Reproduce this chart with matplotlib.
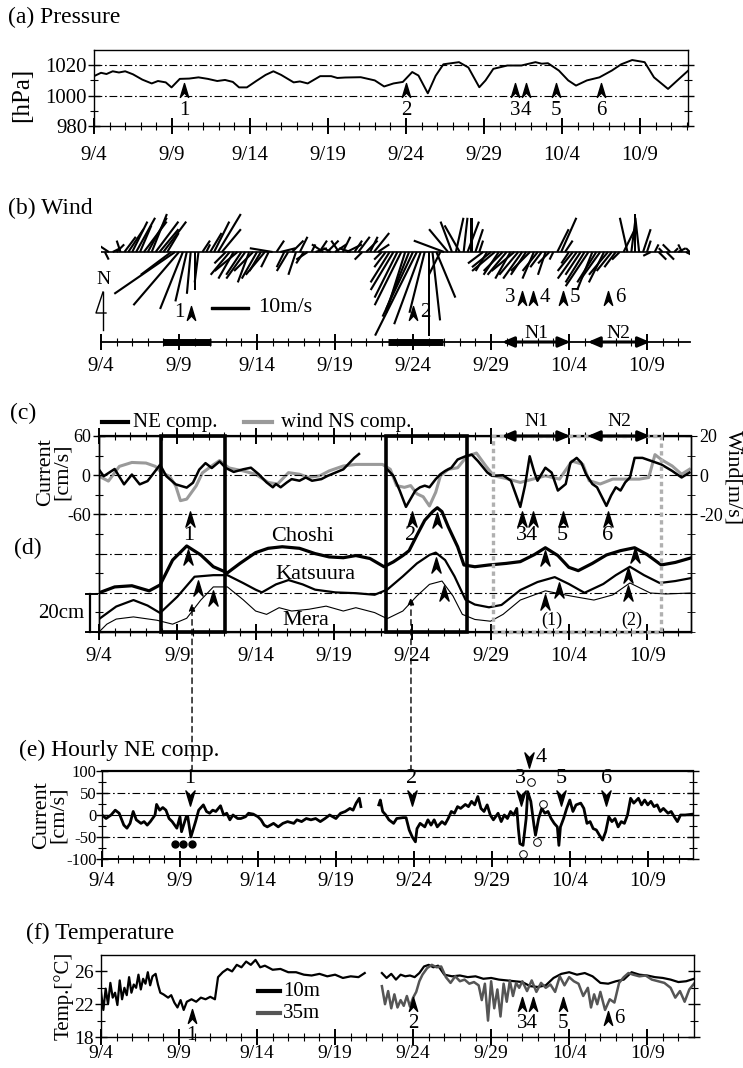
import numpy as np
import matplotlib
matplotlib.use("Agg")
import matplotlib.pyplot as plt
from matplotlib.path import Path
from matplotlib.lines import Line2D
from matplotlib.patches import Rectangle, ConnectionPatch
from matplotlib.transforms import blended_transform_factory as blend

plt.rcParams['font.family'] = ['Liberation Serif', 'DejaVu Serif']
plt.rcParams['axes.linewidth'] = 1.0
plt.rcParams['axes.unicode_minus'] = False

# ------------------------------------------------------------------ data
DATE_LABELS = ['9/4', '9/9', '9/14', '9/19', '9/24', '9/29', '10/4', '10/9']
DATE_TICK_DAYS = [0, 5, 10, 15, 20, 25, 30, 35]
EVENT_LABELS = ['1', '2', '3', '4', '5', '6']
EVENT_DAYS = [5.8, 20.0, 27.0, 27.7, 29.6, 32.5]

# (a) sea level pressure [hPa], days after 9/4
PRESSURE = [(0, 1012.8), (0.45, 1015), (0.8, 1014.2), (1.2, 1016), (1.6, 1015.2), (2.0, 1016),
            (2.5, 1014), (3.1, 1010.5), (3.7, 1008), (4.1, 1009.6), (4.6, 1008.7), (4.97, 1005.4),
            (5.5, 1011), (6.1, 1011.2), (6.7, 1012), (7.3, 1011), (7.9, 1009.6), (8.4, 1010.3),
            (8.9, 1009), (9.3, 1005.4), (9.8, 1005.4), (10.4, 1009.6), (11.0, 1013.6),
            (11.5, 1016), (12.0, 1013.6), (12.8, 1008.7), (13.2, 1009.3), (13.7, 1008),
            (14.5, 1012.8), (15.2, 1012.8), (15.6, 1011.6), (16.1, 1011.9), (17.1, 1012.1),
            (18.0, 1010), (18.6, 1006), (19.2, 1008), (19.8, 1009), (20.4, 1015.5),
            (20.8, 1013.2), (21.4, 1001.5), (21.9, 1013), (22.4, 1020.6), (23.4, 1022),
            (24.0, 1018.5), (24.7, 1005.5), (25.1, 1010), (25.6, 1017.6), (26.5, 1019.8),
            (27.4, 1019.8), (28.3, 1022), (28.7, 1021), (29.1, 1021.3), (29.8, 1016.5),
            (30.4, 1010), (30.9, 1006.6), (31.6, 1010), (32.4, 1012), (33.2, 1016.5),
            (33.8, 1020.6), (34.5, 1023.4), (35.3, 1022), (35.9, 1012), (36.8, 1004.4),
            (37.7, 1012.8), (38.1, 1016.5)]

# (b) wind vectors, 6-hourly (4 per day) [m/s]
WIND_U = [[-2, 1, -3, 2], [2, -1, 3, 4], [4, 5, 3, 6], [5, 4, 6, 5], [6, 3, -8, -16],
          [-12, -6, -3, -1], [0, -1, 2, 1], [3, 4, 6, 5], [-3, -5, -4, -6], [-4, -5, -3, -5],
          [-4, -3, -5, -2], [-6, 2, 4, -2], [-3, 3, -2, 2], [-2, -3, 1, 3], [2, -3, 3, -2],
          [3, -2, 2, 4], [-3, 2, 3, -2], [3, 2, 4, 3], [-2, -3, -5, -6], [-6, -7, -5, -6],
          [-8, -11, -7, -4], [0, 2, 5, -3], [-8, -5, -3, 2], [-4, 1, 3, 0], [2, 1, -4, -3],
          [-5, -6, -4, -5], [-5, -4, -6, -5], [-5, -4, -5, -3], [-4, -3, -2, -3], [-1, 3, 4, 2],
          [-2, -4, -5, -4], [-5, -6, -4, -5], [-5, -4, -5, -4], [-3, -2, 3, -2], [1, 0, -1, 2],
          [1, -2, 1, 2], [-1, 2, -2, 1], [2, -1, 2, -1]]
WIND_V = [[1, -2, 2, 1], [2, 3, 4, 6], [8, 9, 7, 8], [9, 10, 8, 6], [8, 5, -6, -11],
          [-14, -15, -13, -11], [-10, -8, 3, 2], [5, 8, 10, 6], [-3, -6, -7, -5], [-6, -7, -8, -5],
          [-7, -5, -6, -4], [1, 3, 1, -4], [-5, 3, -6, 4], [-3, -2, 2, 1], [3, 2, 3, 1],
          [2, 3, 4, 2], [1, 3, 4, -2], [3, 4, 5, 2], [-2, -4, -8, -10], [-12, -14, -16, -15],
          [-17, -22, -19, -16], [-22, -18, -12, -6], [3, 6, 8, 9], [7, 9, 8, 9], [6, 3, -3, -5],
          [-4, -5, -6, -5], [-6, -7, -5, -6], [-7, -6, -5, -7], [-5, -4, -6, -3], [-2, 6, 9, 3],
          [-3, -5, -7, -6], [-8, -9, -10, -8], [-7, -8, -6, -5], [-4, -2, 6, 9], [8, 10, 9, 6],
          [3, -1, 2, -2], [1, -2, 2, 1], [1, 2, -1, 1]]
WIND_BARS = [(4.0, 7.05), (18.4, 21.9)]
PERIODS = {'N1': (25.7, 30.1), 'N2': (31.2, 35.2)}

# (c) 25-h filtered NE current [cm/s] and wind NS component [m/s]
NE_COMP = [(0, 8.5), (0.3, -1.5), (1.0, 9.5), (1.6, -14), (2.1, 1), (2.6, -14), (3.1, -9),
           (3.9, 16), (4.3, -1.5), (4.9, -14), (5.6, -19), (6.0, -11.5), (6.4, 8.5),
           (6.8, 18.5), (7.2, 11), (7.7, 21), (8.1, 11), (8.6, 5), (9.2, 9), (9.7, 11.5),
           (10.2, 1.5), (10.7, -11), (11.1, -18.5), (11.3, -13.5), (11.6, -18.5), (12.0, -11),
           (12.3, -6), (12.8, -8.5), (13.2, -3.5), (13.6, -8.5), (14.2, -6), (14.6, -1),
           (15.1, 4), (15.6, 9), (16.0, 19), (16.3, 26.5), (16.6, 32.5), (17.5, np.nan),
           (18.4, 9), (18.8, -1), (19.2, -23.5), (19.6, -48.5), (19.9, -36), (20.2, -23.5),
           (20.5, -18.5), (20.8, -16), (21.1, -18.5), (21.5, -6), (21.8, 1.5), (22.1, 6.5),
           (22.5, 11.5), (22.9, 24), (23.4, 29), (23.8, 31.5), (24.2, 21.5), (24.8, 4),
           (25.1, -1), (25.8, 0), (26.3, -8.5), (26.9, -48.5), (27.2, -16), (27.5, 29),
           (27.8, 4), (28.0, -8.5), (28.5, 11.5), (28.9, 4), (29.3, -23.5), (29.8, -13.5),
           (30.1, 19), (30.5, 26.5), (30.8, 19), (31.1, 1.5), (31.5, -13.5), (31.8, -18.5),
           (32.4, -47), (32.7, -31), (33.0, -18.5), (33.3, -23.5), (33.6, -11), (33.9, -3.5),
           (34.2, 26.5), (34.7, 26.5), (35.3, 21.5), (35.9, 16.5), (36.6, 6.5), (37.2, -3.5),
           (37.7, 4)]
WIND_NS = [(0, -0.5), (0.6, -3), (1.3, 4.5), (2.1, 6.5), (3.0, 6.2), (3.6, 4.5), (4.0, 1.2),
           (4.5, -0.5), (4.9, -5.5), (5.2, -13), (5.6, -12.2), (6.2, -5.5), (6.6, 1.2),
           (7.3, 5.3), (7.7, 7.5), (8.3, 3.7), (9.2, 2.2), (10.0, 0.5), (10.8, -3.7),
           (11.4, -4.5), (12.1, 1.3), (12.8, 0.5), (13.4, -1.2), (14.1, -0.3), (14.7, 2.2),
           (15.6, 4.7), (16.4, 5.5), (17.3, 5.5), (18.1, 5.5), (18.6, 3), (19.0, -5.3),
           (19.5, -6.2), (19.9, -5.3), (20.3, -9.5), (20.7, -11), (21.1, -15.7), (21.5, -8.7),
           (21.8, -0.3), (22.3, 3), (22.9, 3.8), (23.5, 9.7), (24.1, 11.3), (24.7, 4.7),
           (25.2, -0.3), (26.0, -1.7), (26.9, -3.7), (27.7, -2), (28.5, -0.3), (29.4, -2),
           (30.2, 7.2), (30.9, 5.5), (31.3, -2.8), (32.0, -4.5), (32.8, -2), (33.6, -2),
           (34.5, -2), (35.1, -1.2), (35.5, 10.5), (35.9, 8), (36.6, 4.7), (37.2, 0.5),
           (37.7, 3)]

# (d) filtered sea level (offset for display) [cm]
CHOSHI = [(0, 20), (1.0, 23), (2.1, 23.6), (3.2, 21), (3.9, 24), (4.7, 36.7), (5.6, 43.9),
          (6.5, 39.3), (7.3, 33.3), (8.2, 30.2), (9.0, 35), (10.0, 40.5), (10.8, 42.7),
          (11.7, 43.5), (12.8, 42.7), (13.8, 40), (14.7, 38.3), (15.6, 37.9), (16.4, 39),
          (17.3, 37.5), (18.2, 33.3), (18.8, 35.8), (19.4, 39), (19.8, 41.5), (20.3, 49.4),
          (20.8, 57), (21.3, 61.4), (21.6, 63.4), (21.9, 61.4), (22.3, 53.7), (22.9, 43.5),
          (23.3, 34.2), (24.0, 33.3), (24.9, 34.2), (26.0, 35), (26.9, 35.9), (27.8, 39.5),
          (28.5, 43), (29.3, 39), (30.0, 33), (30.6, 31.3), (31.5, 35), (32.4, 39.3),
          (33.3, 41.5), (34.2, 43), (35.0, 39.5), (35.9, 34.2), (36.8, 35.5), (37.8, 37.8)]
KATSUURA = [(0, 6.6), (1.1, 13), (2.2, 16.3), (3.1, 13.5), (3.9, 9.7), (5.0, 18), (6.1, 28.2),
            (7.3, 29), (8.2, 29), (9.2, 25), (10.0, 21.6), (10.4, 20.2), (11.3, 24.3),
            (12.1, 26.5), (13.0, 24.3), (13.8, 21.6), (15.1, 20.2), (16.4, 19.8), (17.6, 19),
            (18.4, 21.6), (19.4, 28.4), (20.3, 35), (21.1, 39.3), (21.5, 40.5), (22.1, 36.7),
            (22.7, 28.4), (23.4, 16.5), (24.0, 14), (24.9, 12.6), (25.7, 13.8), (26.9, 21.4),
            (28.0, 25.5), (29.1, 28), (30.0, 24.5), (31.0, 20), (32.2, 24.5), (33.0, 29),
            (33.9, 33.3), (34.8, 29), (35.8, 25), (36.8, 26), (37.8, 27.5)]
MERA = [(0, 0), (0.5, 4), (1.1, 6.6), (2.2, 7.7), (3.7, 6), (4.7, 4), (5.6, 7), (6.5, 16.3),
        (7.3, 23), (8.2, 23), (9.2, 16.5), (10.0, 10.7), (10.7, 9), (11.5, 12.4), (12.3, 10.7),
        (13.4, 11.6), (14.5, 13.2), (15.6, 10.7), (16.4, 12.4), (17.6, 9.9), (18.4, 6.8),
        (19.4, 10.7), (20.3, 18.4), (21.1, 24.3), (21.9, 26), (22.6, 18.4), (23.2, 9),
        (24.0, 6.4), (25.0, 5.5), (25.8, 9), (26.9, 16.3), (28.5, 21), (30.1, 18.4),
        (31.6, 16.3), (32.8, 18.9), (33.9, 25), (35.2, 19.9), (36.2, 19.4), (37.8, 19.9)]
SL_MARKS = [(5.7, 38.3), (6.3, 22.4), (7.3, 17.3), (21.6, 57.1), (21.5, 34.2), (22.0, 19.9),
            (28.5, 37.8), (29.4, 21.4), (28.5, 15.3), (34.2, 39.3), (33.8, 29.1), (33.8, 19.9)]
SL_EVENTS = [('(1)', 28.9), ('(2)', 34.0)]

# (e) hourly NE component [cm/s]
HOURLY = [(0, 0), (0.26, -8), (0.58, 0), (0.85, 11), (1.1, 4), (1.4, -23), (1.6, -30),
          (1.8, -19), (2.0, 8), (2.2, -11), (2.5, -19), (2.7, -15), (2.9, -23), (3.1, -15),
          (3.4, 0), (3.5, 24), (3.7, 11), (3.9, 17), (4.1, 11), (4.3, -8), (4.5, -15),
          (4.8, -30), (5.0, -4), (5.1, -38), (5.4, -4), (5.5, -4), (5.7, -50), (6.0, -15),
          (6.2, 11), (6.5, 23), (6.7, 8), (6.9, 4), (7.1, 11), (7.3, 8), (7.6, 21), (7.8, 0),
          (8.0, 4), (8.2, -11), (8.4, 0), (8.7, -8), (8.9, -8), (9.2, -4), (9.4, 4), (9.7, 2),
          (10.0, -4), (10.2, -11), (10.4, -23), (10.6, -27), (10.8, -23), (11.0, -19),
          (11.3, -27), (11.6, -19), (11.9, -15), (12.3, -19), (12.5, -11), (12.8, -15),
          (13.1, -8), (13.4, -11), (13.7, -8), (14.0, -15), (14.3, -8), (14.6, 0), (15.0, -8),
          (15.3, 4), (15.6, 8), (15.9, 15), (16.1, 11), (16.3, 27), (16.5, 38), (16.6, 19),
          (17.1, np.nan), (17.75, 23), (17.85, 34), (18.0, 8), (18.2, 0), (18.4, -11),
          (18.7, -19), (18.9, -8), (19.3, -6), (19.5, -6), (19.7, -34), (19.9, -50),
          (20.1, -61), (20.2, -31), (20.4, -19), (20.7, -27), (20.9, -11), (21.1, -23),
          (21.3, -11), (21.5, -27), (21.8, -15), (22.0, -21), (22.2, -8), (22.4, 8), (22.6, 4),
          (22.8, 19), (23.0, 15), (23.3, 24), (23.5, 19), (23.7, 31), (23.9, 23), (24.1, 42),
          (24.3, 15), (24.5, 8), (24.7, 23), (24.9, 0), (25.1, -11), (25.4, 4), (25.6, -15),
          (25.8, 0), (26.0, -8), (26.2, 8), (26.4, 0), (26.6, 15), (26.7, -31), (26.8, -65),
          (27.0, -69), (27.2, -8), (27.3, 53), (27.5, 31), (27.7, -23), (27.8, -46),
          (28.0, -8), (28.2, 15), (28.4, 4), (28.6, 8), (28.8, -8), (29.0, -19), (29.2, -27),
          (29.3, -69), (29.4, -27), (29.6, -8), (29.8, 15), (30.0, 34), (30.2, 8), (30.4, 23),
          (30.7, 27), (30.9, 15), (31.1, -19), (31.3, -15), (31.5, -31), (31.7, -34),
          (31.9, -46), (32.1, -57), (32.3, -38), (32.5, -4), (32.7, -15), (32.9, -8),
          (33.1, -27), (33.3, -15), (33.5, -19), (33.7, 0), (33.9, 38), (34.1, 27), (34.4, 38),
          (34.6, 23), (34.8, 34), (35.0, 23), (35.2, 31), (35.4, 19), (35.6, 23), (35.8, 8),
          (36.0, 15), (36.3, 4), (36.5, 8), (36.7, -4), (36.9, -15), (37.1, 0), (37.4, 0),
          (37.9, 2)]
FILLED_DOTS = [(4.7, -67), (5.2, -67), (5.8, -67)]
OPEN_DOTS = [(27.5, 76), (28.25, 25), (27.9, -61), (27.0, -88)]

# (f) temperature [deg C]
TEMP_10M = [(0, 23.5), (0.15, 21.3), (0.3, 23.9), (0.45, 22.0), (0.6, 24.6), (0.75, 22.8),
            (0.9, 23.4), (1.05, 21.9), (1.2, 24.9), (1.35, 22.6), (1.5, 24.0), (1.65, 23.1),
            (1.8, 25.3), (1.95, 23.4), (2.1, 24.4), (2.25, 24.0), (2.4, 25.6), (2.55, 23.8),
            (2.7, 25.1), (2.85, 24.5), (3.0, 25.9), (3.15, 24.3), (3.3, 25.4), (3.5, 25.7),
            (3.65, 24.4), (3.8, 23.4), (4.0, 23.2), (4.3, 22.8), (4.5, 23.1), (4.7, 22.2),
            (4.9, 21.6), (5.1, 22.5), (5.3, 21.3), (5.5, 22.3), (5.8, 22.6), (6.1, 22.3),
            (6.4, 22.8), (6.7, 22.6), (7.0, 22.9), (7.3, 22.6), (7.5, 25.3), (7.8, 25.9),
            (8.1, 26.3), (8.4, 26.0), (8.7, 26.8), (9.0, 26.5), (9.3, 27.2), (9.6, 26.8),
            (9.9, 27.4), (10.2, 26.5), (10.5, 26.7), (11.0, 26.2), (11.5, 26.3), (12.0, 25.9),
            (12.5, 25.9), (13.0, 25.6), (13.5, 25.5), (14.0, 25.7), (14.5, 25.4), (15.0, 25.6),
            (15.5, 25.2), (16.0, 25.4), (16.5, 25.3), (16.9, 25.8), (17.4, np.nan), (18.0, 25.8),
            (18.3, 25.2), (18.6, 25.7), (18.9, 25.0), (19.2, 25.6), (19.5, 25.4), (19.8, 25.5),
            (20.1, 25.3), (20.4, 25.8), (20.7, 26.6), (21.0, 26.8), (21.3, 26.5), (21.6, 26.7),
            (22.0, 25.6), (22.5, 25.4), (23.0, 25.5), (23.5, 25.3), (24.0, 25.4), (24.5, 25.1),
            (25.0, 25.2), (25.5, 25.0), (26.0, 24.9), (26.5, 24.8), (27.0, 24.7), (27.5, 24.2),
            (28.0, 24.1), (28.5, 24.3), (29.0, 25.2), (29.5, 25.7), (30.0, 25.9), (30.5, 25.6),
            (31.0, 25.8), (31.5, 25.4), (32.0, 24.6), (32.5, 24.5), (33.0, 24.8), (33.5, 25.0),
            (34.0, 25.9), (34.5, 25.6), (35.0, 25.5), (35.5, 25.3), (36.0, 25.2), (36.5, 25.0),
            (37.0, 24.7), (37.5, 24.8), (38.0, 25.1)]
TEMP_35M = [(18.0, 24.2), (18.2, 22.0), (18.4, 23.6), (18.6, 21.5), (18.8, 23.2), (19.0, 21.6),
            (19.2, 22.5), (19.4, 21.8), (19.6, 23.0), (19.8, 21.7), (20.0, 22.8), (20.2, 23.5),
            (20.4, 24.8), (20.6, 25.6), (20.9, 26.4), (21.2, 26.8), (21.5, 26.5), (21.8, 26.6),
            (22.1, 25.3), (22.4, 24.6), (22.7, 25.4), (23.0, 24.8), (23.3, 25.0), (23.6, 24.5),
            (23.9, 24.7), (24.2, 24.3), (24.4, 22.5), (24.6, 24.5), (24.8, 20.0), (25.0, 24.8),
            (25.2, 21.5), (25.4, 23.8), (25.6, 20.5), (25.8, 24.5), (26.0, 22.3), (26.2, 24.9),
            (26.4, 23.0), (26.6, 24.6), (26.8, 24.0), (27.0, 24.8), (27.3, 23.6), (27.6, 24.9),
            (27.9, 23.5), (28.2, 24.6), (28.5, 24.0), (28.8, 24.4), (29.1, 23.5), (29.4, 25.4),
            (29.7, 24.3), (30.0, 25.3), (30.3, 24.8), (30.6, 24.5), (30.9, 23.0), (31.2, 24.0),
            (31.4, 21.6), (31.6, 23.2), (31.8, 22.0), (32.0, 23.5), (32.3, 21.3), (32.6, 22.6),
            (32.9, 22.2), (33.2, 24.6), (33.5, 25.3), (33.8, 25.8), (34.1, 25.6), (34.5, 25.4),
            (34.9, 25.5), (35.3, 25.0), (35.7, 24.8), (36.1, 24.6), (36.5, 24.0), (36.8, 22.8),
            (37.1, 23.6), (37.4, 22.3), (37.7, 23.8), (38.0, 24.5)]

# ------------------------------------------------------------------ helpers
W, H = 743, 1068
fig = plt.figure(figsize=(W / 100, H / 100), dpi=100)


def unzip(pairs):
    a = np.array(pairs, dtype=float)
    return a[:, 0], a[:, 1]


def px_ax(l, t, r, b, **kw):
    return fig.add_axes([l / W, 1 - b / H, (r - l) / W, (b - t) / H], **kw)


def ptext(x, y, s, **kw):
    kw.setdefault('ha', 'left')
    kw.setdefault('va', 'center')
    return fig.text(x / W, 1 - y / H, s, **kw)


def time_axis(ax, xmax, pad=2, top=False, labelsize=15):
    ax.set_xlim(0, xmax)
    ax.set_xticks(DATE_TICK_DAYS)
    ax.set_xticklabels(DATE_LABELS)
    ax.set_xticks(np.arange(0, xmax, 1.0), minor=True)
    ax.tick_params(axis='x', which='major', direction='inout', length=11, width=1.4,
                   labelsize=labelsize, pad=pad, top=top)
    ax.tick_params(axis='x', which='minor', direction='inout', length=6, width=0.8, top=top)


def y_ticks(ax, major, minor, labelsize=14, right=True, left=True, pad=1):
    ax.set_yticks(major)
    ax.set_yticks(minor, minor=True)
    ax.tick_params(axis='y', which='both', direction='inout', left=left, right=right,
                   labelsize=labelsize, pad=pad)
    ax.tick_params(axis='y', which='major', length=8, width=1.0)
    ax.tick_params(axis='y', which='minor', length=6, width=0.8)


_v = [(0, 1), (0.6, -1), (0, -0.35), (-0.6, -1), (0, 1)]
_c = [Path.MOVETO, Path.LINETO, Path.LINETO, Path.LINETO, Path.CLOSEPOLY]
UP = Path(_v, _c)
DOWN = Path([(x, -y) for x, y in _v], _c)
DASHDOT = (0, (7, 2.5, 1.5, 2.5))
GRAY = '#9a9a9a'


def mark(ax, x, y, path=UP, ms=10):
    ax.plot([x], [y], ls='none', marker=path, ms=ms, color='k', clip_on=False, zorder=6)


# ------------------------------------------------------------------ (a) pressure
ax_a = px_ax(94, 50, 688, 126)
pd_, ph_ = unzip(PRESSURE)
ax_a.plot(pd_, ph_, color='k', lw=1.4)
ax_a.set_ylim(980, 1030)
for v in (1000, 1020):
    ax_a.axhline(v, color='k', lw=0.8, ls=DASHDOT)
y_ticks(ax_a, [980, 1000, 1020], [990, 1010], labelsize=15)
time_axis(ax_a, 38.08, pad=9)
for lab, d in zip(EVENT_LABELS, EVENT_DAYS):
    mark(ax_a, d, 1003.5)
    ax_a.text(d, 990.5, lab, ha='center', va='center', fontsize=15)
ptext(8, 17, '(a) Pressure', fontsize=17)
ptext(22, 95, '[hPa]', rotation=90, ha='center', fontsize=18)

# ------------------------------------------------------------------ (b) wind
ax_b = px_ax(101, 205, 690, 342)
PX_PER_MS = 3.8
b_lo, b_hi = -(342 - 252) / PX_PER_MS, (252 - 205) / PX_PER_MS
ax_b.set_ylim(b_lo, b_hi)
for s in ('top', 'left', 'right'):
    ax_b.spines[s].set_visible(False)
ax_b.spines['bottom'].set_linewidth(1.3)
ax_b.set_yticks([])
time_axis(ax_b, 37.76, pad=5)
wu = np.array(WIND_U, dtype=float).ravel()
wv = np.array(WIND_V, dtype=float).ravel()
wt = np.arange(wu.size) * 0.25
ax_b.axhline(0, color='k', lw=1.2)
Q = ax_b.quiver(wt, np.zeros_like(wt), wu, wv, angles='uv', scale_units='inches',
                scale=100 / PX_PER_MS, width=0.0036, headwidth=0, headlength=0,
                headaxislength=0, minlength=0, pivot='tail', color='k')
ax_b.quiverkey(Q, 249 / W, 1 - 308 / H, 10, '10m/s', labelpos='E', coordinates='figure',
               fontproperties={'size': 16}, labelsep=0.09, linewidth=1.0, edgecolor='k')
for a0, a1 in WIND_BARS:
    ax_b.plot([a0, a1], [b_lo, b_lo], color='k', lw=5, solid_capstyle='butt', clip_on=False)
for name, (p0, p1) in PERIODS.items():
    ax_b.annotate('', xy=(p1, b_lo), xytext=(p0, b_lo),
                  arrowprops=dict(arrowstyle='<|-|>,head_length=0.7,head_width=0.3',
                                  lw=2.2, color='k', shrinkA=0, shrinkB=0), annotation_clip=False)
    ax_b.text((p0 + p1) / 2, b_lo + 2.2, name, ha='center', va='center', fontsize=14)
b_pos = [(-16, 'L'), (-16, 'R'), (-12.1, 'L'), (-12.1, 'R'), (-12.1, 'R'), (-12.1, 'R')]
for lab, d, (yy, side) in zip(EVENT_LABELS, EVENT_DAYS, b_pos):
    mark(ax_b, d, yy, ms=10)
    if side == 'L':
        ax_b.text(d - 0.45, yy, lab, ha='right', va='center', fontsize=15)
    else:
        ax_b.text(d + 0.45, yy, lab, ha='left', va='center', fontsize=15)
ptext(8, 208, '(b) Wind', fontsize=17)
ptext(103, 279, 'N', ha='center', fontsize=14)
fig.add_artist(Line2D([103 / W, 103 / W], [1 - 292 / H, 1 - 330 / H], color='k', lw=1.0))
fig.add_artist(Line2D([103 / W, 96 / W, 106 / W], [1 - 292 / H, 1 - 313 / H, 1 - 313 / H],
                      color='k', lw=1.0))

# ------------------------------------------------------------------ (c)+(d)
ax_c = px_ax(99, 436, 691, 632)
ax_c.set_ylim(-240, 60)
ax_w = ax_c.twinx()
ax_w.set_ylim(-80, 20)
ax_c.set_zorder(ax_w.get_zorder() + 1)
ax_c.patch.set_visible(False)
ax_sl = fig.add_axes(ax_c.get_position(), sharex=ax_c, facecolor='none')
ax_sl.set_ylim(0, 100)
ax_sl.axis('off')
ax_sl.set_zorder(ax_c.get_zorder() + 1)

for s in ('top', 'bottom'):
    ax_c.spines[s].set_linewidth(1.6)
time_axis(ax_c, 37.8, pad=5, top=True)
y_ticks(ax_c, [60, 0, -60], np.arange(-240, 61, 30), labelsize=13, right=False, pad=2)
ax_w.set_yticks([20, 0, -20])
ax_w.set_yticks(np.arange(-80, 21, 10), minor=True)
ax_w.set_yticklabels(['20', '0', '-20'])
ax_w.tick_params(axis='y', which='both', direction='inout', labelsize=13, pad=2)
ax_w.tick_params(axis='y', which='major', length=8)
ax_w.tick_params(axis='y', which='minor', length=6)
for v in (0, -60, -120, -180):
    ax_c.axhline(v, color='k', lw=0.8, ls=DASHDOT)

wd, wn = unzip(WIND_NS)
ax_w.plot(wd, wn, color=GRAY, lw=2.2)
nd, nv = unzip(NE_COMP)
ax_c.plot(nd, nv, color='k', lw=1.8)
for series, lw in ((CHOSHI, 2.3), (KATSUURA, 1.6), (MERA, 0.8)):
    sd, sv = unzip(series)
    ax_sl.plot(sd, sv, color='k', lw=lw)

bt = blend(ax_sl.transData, ax_sl.transAxes)
for x0, x1 in [(3.96, 8.05), (18.3, 23.5)]:
    ax_sl.add_patch(Rectangle((x0, 0), x1 - x0, 1, transform=bt, fill=False, lw=2.6,
                              ec='k', clip_on=False, zorder=5))
ax_sl.add_patch(Rectangle((25.16, 0), 35.9 - 25.16, 1, transform=bt, fill=False, lw=2.4,
                          ec='#b0b0b0', ls=(0, (1.3, 1.0)), clip_on=False, zorder=4))
for name, (p0, p1) in PERIODS.items():
    ax_sl.annotate('', xy=(p1, 1), xytext=(p0, 1), xycoords=bt, textcoords=bt,
                   arrowprops=dict(arrowstyle='<|-|>,head_length=0.7,head_width=0.3',
                                   lw=2.2, color='k', shrinkA=0, shrinkB=0),
                   annotation_clip=False, zorder=7)
    ax_sl.text((p0 + p1) / 2, 1.075, name, transform=bt, ha='center', va='center',
               fontsize=14)

for lab, d in zip(EVENT_LABELS, EVENT_DAYS):
    mark(ax_c, d, -67, ms=11)
lab_c = [('1', 5.7), ('2', 19.9), ('34', 27.3), ('5', 29.6), ('6', 32.5)]
for lab, d in lab_c:
    ax_c.text(d, -93, lab, ha='center', va='center', fontsize=16)
for d, y in SL_MARKS:
    mark(ax_sl, d, y, ms=11)
for lab, d in SL_EVENTS:
    ax_sl.text(d, 6.1, lab, ha='center', va='center', fontsize=13)
ax_sl.text(13.0, 48.5, 'Choshi', ha='center', va='center', fontsize=16)
ax_sl.text(13.8, 29.5, 'Katsuura', ha='center', va='center', fontsize=16)
ax_sl.text(13.2, 6.1, 'Mera', ha='center', va='center', fontsize=16)

ptext(10, 413, '(c)', fontsize=17)
ptext(14, 548, '(d)', fontsize=17)
ptext(54, 472, 'Current\n[cm/s]', rotation=90, ha='center', fontsize=16, linespacing=0.85)
ptext(733, 478, 'Wind[m/s]', rotation=270, ha='center', fontsize=16)
fig.add_artist(Line2D([102 / W, 128 / W], [1 - 422 / H] * 2, color='k', lw=3))
ptext(133, 422, 'NE comp.', fontsize=15)
fig.add_artist(Line2D([244 / W, 272 / W], [1 - 422 / H] * 2, color=GRAY, lw=3))
ptext(281, 422, 'wind NS comp.', fontsize=15)
# 20 cm scale bracket
fig.add_artist(Line2D([90 / W, 90 / W], [1 - 594 / H, 1 - 632 / H], color='k', lw=1.6))
fig.add_artist(Line2D([86 / W, 97 / W], [1 - 594 / H] * 2, color='k', lw=1.4))
fig.add_artist(Line2D([86 / W, 97 / W], [1 - 632 / H] * 2, color='k', lw=1.4))
ptext(84, 614, '20cm', ha='right', fontsize=15)

# ------------------------------------------------------------------ (e) hourly
ax_e = px_ax(102, 771, 693, 859)
ax_e.set_ylim(-100, 100)
ed, ev = unzip(HOURLY)
ax_e.plot(ed, ev, color='k', lw=2.0)
ax_e.axhline(0, color='k', lw=0.8)
for v in (50, -50):
    ax_e.axhline(v, color='k', lw=0.8, ls=DASHDOT)
ax_e.spines['top'].set_linewidth(1.6)
ax_e.spines['bottom'].set_linewidth(1.4)
y_ticks(ax_e, [-100, -50, 0, 50, 100], np.arange(-100, 101, 25), labelsize=12, pad=0)
time_axis(ax_e, 37.9, pad=4)
for lab, d in zip(EVENT_LABELS, EVENT_DAYS):
    if lab == '4':
        mark(ax_e, d - 0.3, 125, path=DOWN, ms=11)
        ax_e.text(d + 0.1, 131, lab, ha='left', va='center', fontsize=16)
    else:
        mark(ax_e, d - 0.15, 38, path=DOWN, ms=11)
        ax_e.text(d - 0.15, 82, lab, ha='center', va='center', fontsize=16)
fx, fy = unzip(FILLED_DOTS)
ax_e.plot(fx, fy, ls='none', marker='o', ms=5, color='k', clip_on=False)
ox, oy = unzip(OPEN_DOTS)
ax_e.plot(ox, oy, ls='none', marker='o', ms=5.5, mfc='white', mec='k', mew=0.7,
          clip_on=False, zorder=6)
ptext(19, 750, '(e) Hourly NE comp.', fontsize=17)
ptext(50, 815, 'Current\n[cm/s]', rotation=90, ha='center', fontsize=16, linespacing=0.85)

# vertical dashed connectors from (d) to (e)
for d, y0 in [(5.94, 14.8), (19.92, 18.0)]:
    con = ConnectionPatch(xyA=(d, 1.0), coordsA=blend(ax_c.transData, ax_e.transAxes),
                          xyB=(d, y0), coordsB=ax_sl.transData,
                          arrowstyle='-|>,head_length=0.45,head_width=0.18',
                          ls=(0, (4, 3)), lw=1.0, color='k', zorder=8)
    fig.add_artist(con)

# ------------------------------------------------------------------ (f) temperature
ax_f = px_ax(101, 955, 694, 1037)
ax_f.set_ylim(18, 28)
td, tv = unzip(TEMP_10M)
ax_f.plot(td, tv, color='k', lw=1.6)
t3d, t3v = unzip(TEMP_35M)
ax_f.plot(t3d, t3v, color='#555555', lw=1.8)
y_ticks(ax_f, [18, 22, 26], [20, 24], labelsize=14, pad=1)
time_axis(ax_f, 38.0, pad=0, labelsize=14)
f_pos = [(20.6, 'C'), (22.0, 'C'), (22.0, 'L'), (22.0, 'L'), (22.0, 'C'), (20.3, 'R')]
for lab, d, (yy, side) in zip(EVENT_LABELS, EVENT_DAYS, f_pos):
    mark(ax_f, d, yy, ms=10)
    if side == 'C':
        ax_f.text(d, yy - 2.4, lab, ha='center', va='center', fontsize=15)
    elif side == 'R':
        ax_f.text(d + 0.4, yy, lab, ha='left', va='center', fontsize=15)
ax_f.text(27.35, 19.6, '34', ha='center', va='center', fontsize=15)
ptext(26, 933, '(f) Temperature', fontsize=17)
ptext(64, 996, 'Temp.[°C]', rotation=90, ha='center', fontsize=15)
fig.add_artist(Line2D([258 / W, 280 / W], [1 - 991 / H] * 2, color='k', lw=3))
ptext(283, 991, '10m', fontsize=15)
fig.add_artist(Line2D([258 / W, 280 / W], [1 - 1013 / H] * 2, color='#555555', lw=3))
ptext(283, 1013, '35m', fontsize=15)

fig.savefig('out.png', dpi=100)
